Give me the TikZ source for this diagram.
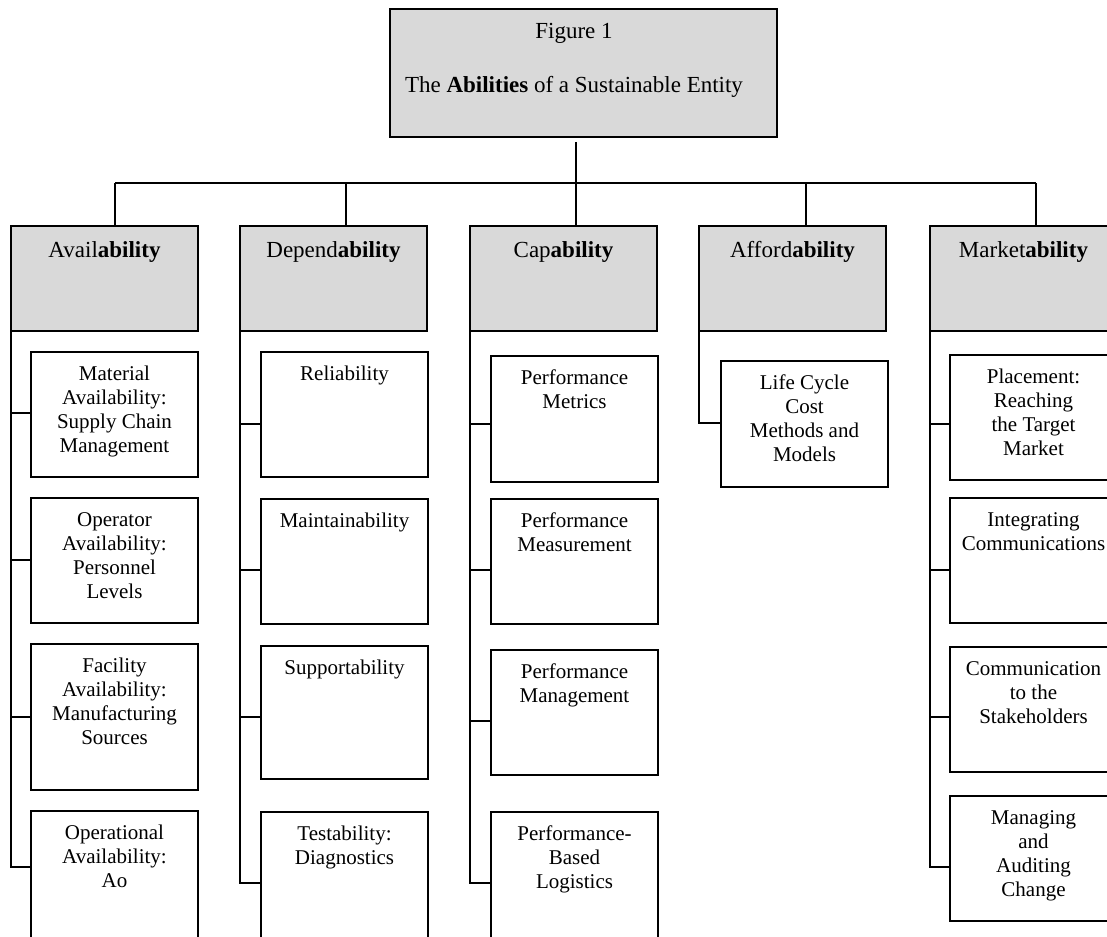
\documentclass[tikz,border=0pt]{standalone}
\usepackage{fontspec}
\setmainfont{Liberation Serif}
\usetikzlibrary{calc}
\definecolor{hdrgray}{RGB}{217,217,217}
\begin{document}
\begin{tikzpicture}[x=1pt,y=-1pt,line width=1.8pt,
  topbox/.style={draw, fill=hdrgray, anchor=north west, minimum width=387pt, minimum height=128pt, inner sep=0, outer sep=0},
  hdr/.style={draw, fill=hdrgray, anchor=north west, minimum width=187pt, minimum height=105pt, inner sep=0, outer sep=0},
  sub/.style={draw, fill=white, anchor=north west, minimum width=167pt, inner sep=0, outer sep=0},
  subtxt/.style={anchor=north, align=center, inner sep=0, font=\fontsize{21}{24}\selectfont},
  hdrtxt/.style={anchor=base, inner sep=0, font=\fontsize{23}{27}\selectfont}]
\useasboundingbox (0,0) rectangle (1107,936);
\clip (0,0) rectangle (1107,936);

% top box
\node[topbox] (top) at (390,9) {};
\node[hdrtxt] (t1) at (574,39) {Figure 1};
\node[hdrtxt] (t2) at (574,93) {The \textbf{Abilities} of a Sustainable Entity};

% headers
\node[hdr] (avail) at (11,226) {};
\node[hdr] (depend) at (240,226) {};
\node[hdr] (cap) at (470,226) {};
\node[hdr] (afford) at (699,226) {};
\node[hdr] (market) at (930,226) {};
\node[hdrtxt] (availt) at ($(avail.north)+(0,31)$) {Avail\textbf{ability}};
\node[hdrtxt] (dependt) at ($(depend.north)+(0,31)$) {Depend\textbf{ability}};
\node[hdrtxt] (capt) at ($(cap.north)+(0,31)$) {Cap\textbf{ability}};
\node[hdrtxt] (affordt) at ($(afford.north)+(0,31)$) {Afford\textbf{ability}};
\node[hdrtxt] (markett) at ($(market.north)+(0,31)$) {Market\textbf{ability}};

% bus
\coordinate (b1) at (115,183);
\coordinate (b2) at (346,183);
\coordinate (b3) at (576,183);
\coordinate (b4) at (806,183);
\coordinate (b5) at (1036,183);
\draw (b1) -- (b5);
\draw ([yshift=-5pt]top.south -| b3) -- (b3 |- cap.north);
\draw (b1) -- (b1 |- avail.north);
\draw (b2) -- (b2 |- depend.north);
\draw (b4) -- (b4 |- afford.north);
\draw (b5) -- (b5 |- market.north);

% column 1
\node[sub, minimum height=125pt] (a1) at (31,352) {};
\node[sub, minimum height=125pt] (a2) at (31,498) {};
\node[sub, minimum height=146pt] (a3) at (31,644) {};
\node[sub, minimum height=140pt] (a4) at (31,811) {};
\node[subtxt] (a1t) at ($(a1.north)+(0,11.2)$) {\strut Material\\Availability:\\Supply Chain\\Management};
\node[subtxt] (a2t) at ($(a2.north)+(0,11.2)$) {\strut Operator\\Availability:\\Personnel\\Levels};
\node[subtxt] (a3t) at ($(a3.north)+(0,11.2)$) {\strut Facility\\Availability:\\Manufacturing\\Sources};
\node[subtxt] (a4t) at ($(a4.north)+(0,11.2)$) {\strut Operational\\Availability:\\Ao};
\coordinate (a1c) at (31,413);
\coordinate (a2c) at (31,560);
\coordinate (a3c) at (31,717);
\coordinate (a4c) at (31,867);
\draw (avail.south west) |- (a4c);
\draw (a1c -| avail.west) -- (a1c);
\draw (a2c -| avail.west) -- (a2c);
\draw (a3c -| avail.west) -- (a3c);

% column 2
\node[sub, minimum height=125pt] (d1) at (261,352) {};
\node[sub, minimum height=125pt] (d2) at (261,499) {};
\node[sub, minimum height=133pt] (d3) at (261,646) {};
\node[sub, minimum height=140pt] (d4) at (261,812) {};
\node[subtxt] (d1t) at ($(d1.north)+(0,11.2)$) {\strut Reliability};
\node[subtxt] (d2t) at ($(d2.north)+(0,11.2)$) {\strut Maintainability};
\node[subtxt] (d3t) at ($(d3.north)+(0,11.2)$) {\strut Supportability};
\node[subtxt] (d4t) at ($(d4.north)+(0,11.2)$) {\strut Testability:\\Diagnostics};
\coordinate (d1c) at (261,424);
\coordinate (d2c) at (261,570);
\coordinate (d3c) at (261,717);
\coordinate (d4c) at (261,883);
\draw (depend.south west) |- (d4c);
\draw (d1c -| depend.west) -- (d1c);
\draw (d2c -| depend.west) -- (d2c);
\draw (d3c -| depend.west) -- (d3c);

% column 3
\node[sub, minimum height=126pt] (c1) at (491,356) {};
\node[sub, minimum height=125pt] (c2) at (491,499) {};
\node[sub, minimum height=125pt] (c3) at (491,650) {};
\node[sub, minimum height=140pt] (c4) at (491,812) {};
\node[subtxt] (c1t) at ($(c1.north)+(0,11.2)$) {\strut Performance\\Metrics};
\node[subtxt] (c2t) at ($(c2.north)+(0,11.2)$) {\strut Performance\\Measurement};
\node[subtxt] (c3t) at ($(c3.north)+(0,11.2)$) {\strut Performance\\Management};
\node[subtxt] (c4t) at ($(c4.north)+(0,11.2)$) {\strut Performance-\\Based\\Logistics};
\coordinate (c1c) at (491,424);
\coordinate (c2c) at (491,570);
\coordinate (c3c) at (491,721);
\coordinate (c4c) at (491,883);
\draw (cap.south west) |- (c4c);
\draw (c1c -| cap.west) -- (c1c);
\draw (c2c -| cap.west) -- (c2c);
\draw (c3c -| cap.west) -- (c3c);

% column 4
\node[sub, minimum height=126pt] (f1) at (721,361) {};
\node[subtxt] (f1t) at ($(f1.north)+(0,11.2)$) {\strut Life Cycle\\Cost\\Methods and\\Models};
\coordinate (f1c) at (721,423);
\draw (afford.south west) |- (f1c);

% column 5
\node[sub, minimum height=125pt] (m1) at (950,355) {};
\node[sub, minimum height=125pt] (m2) at (950,498) {};
\node[sub, minimum height=125pt] (m3) at (950,647) {};
\node[sub, minimum height=125pt] (m4) at (950,796) {};
\node[subtxt] (m1t) at ($(m1.north)+(0,11.2)$) {\strut Placement:\\Reaching\\the Target\\Market};
\node[subtxt] (m2t) at ($(m2.north)+(0,11.2)$) {\strut Integrating\\Communications};
\node[subtxt] (m3t) at ($(m3.north)+(0,11.2)$) {\strut Communication\\to the\\Stakeholders};
\node[subtxt] (m4t) at ($(m4.north)+(0,11.2)$) {\strut Managing\\and\\Auditing\\Change};
\coordinate (m1c) at (950,424);
\coordinate (m2c) at (950,570);
\coordinate (m3c) at (950,717);
\coordinate (m4c) at (950,867);
\draw (market.south west) |- (m4c);
\draw (m1c -| market.west) -- (m1c);
\draw (m2c -| market.west) -- (m2c);
\draw (m3c -| market.west) -- (m3c);
\end{tikzpicture}
\end{document}
